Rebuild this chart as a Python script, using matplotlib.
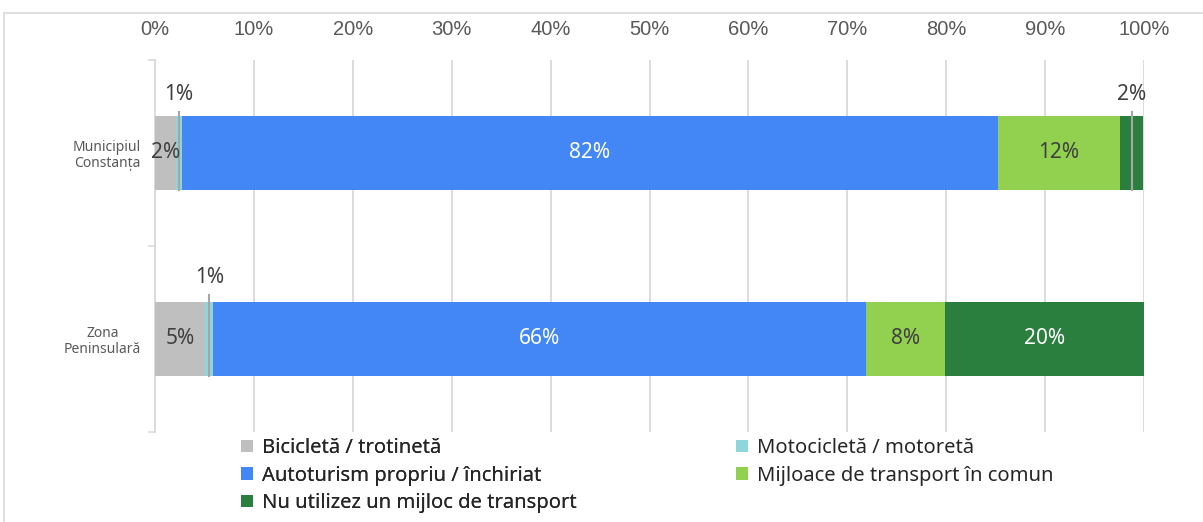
import matplotlib
matplotlib.use("Agg")
import matplotlib.pyplot as plt
from matplotlib.patches import Rectangle, Patch
import numpy as np

categories = ["Municipiul\nConstanța", "Zona\nPeninsulară"]
series_names = ["Bicicletă / trotinetă", "Motocicletă / motoretă", "Autoturism propriu / închiriat",
                "Mijloace de transport în comun", "Nu utilizez un mijloc de transport"]
bicicleta = [2.1, 5.1]
motocicleta = [0.6, 0.8]
autoturism = [82.5, 66.0]
mijloace = [12.4, 8.0]
nu_utilizez = [2.3, 20.1]
labels = [["2%", "5%"], ["1%", "1%"], ["82%", "66%"], ["12%", "8%"], ["2%", "20%"]]
tick_values = [0, 10, 20, 30, 40, 50, 60, 70, 80, 90, 100]
tick_labels = [f"{v}%" for v in tick_values]

colors = ["#bfbfbf", "#8fd6dc", "#4287f5", "#92d050", "#2a7f3e"]
label_colors = ["#404040", "#404040", "white", "#404040", "white"]
outside = [[False, False], [True, True], [False, False], [False, False], [True, False]]

fig = plt.figure(figsize=(12.03, 5.22), dpi=100)
ax = fig.add_axes([155/1203, 1-432/522, (1144-155)/1203, (432-60)/522])

data = [bicicleta, motocicleta, autoturism, mijloace, nu_utilizez]
y = np.arange(len(categories))
left = np.zeros(len(categories))
bar_h = 0.4
for i, vals in enumerate(data):
    vals = np.array(vals)
    ax.barh(y, vals, left=left, height=bar_h, color=colors[i], zorder=3, label=series_names[i])
    for j in range(len(categories)):
        cx = left[j] + vals[j] / 2
        if outside[i][j]:
            label_y = y[j] - 0.312 if j == 0 else y[j] - 0.328
            line_top = y[j] - 0.22 if j == 0 else y[j] - 0.237
            ax.plot([cx, cx], [line_top, y[j] + bar_h/2], color="#a6a6a6", lw=1.5, zorder=4)
            ax.text(cx, label_y, labels[i][j], ha="center", va="center", fontsize=15,
                    family="Noto Sans", color="#404040", zorder=5)
        else:
            ax.text(cx, y[j], labels[i][j], ha="center", va="center", fontsize=15,
                    family="Noto Sans", color=label_colors[i], zorder=5)
    left = left + vals

ax.set_xlim(0, 100)
ax.set_ylim(1.5, -0.5)
ax.xaxis.tick_top()
ax.set_xticks(tick_values)
ax.set_xticklabels(tick_labels, family="Liberation Sans", fontsize=14.5, color="#595959")
ax.tick_params(axis="x", length=0, pad=15)
ax.grid(axis="x", color="#d9d9d9", lw=1.3, zorder=0)
ax.set_yticks(y)
ax.set_yticklabels(categories, family="Noto Sans", fontsize=10, color="#595959",
                   multialignment="center", linespacing=1.1)
ax.tick_params(axis="y", length=0, pad=10)
ax.set_yticks([-0.5, 0.5, 1.5], minor=True)
ax.tick_params(axis="y", which="minor", length=5, color="#d9d9d9", width=1.2)
for s in ["top", "right", "bottom"]:
    ax.spines[s].set_visible(False)
ax.spines["left"].set_color("#d9d9d9")
ax.spines["left"].set_linewidth(1.3)

h = [Patch(facecolor=c, edgecolor="none") for c in colors]
leg_kw = dict(loc="upper left", frameon=False, prop={"family": "Noto Sans", "size": 14.5},
              handlelength=0.58, handleheight=0.58, handletextpad=0.45, labelspacing=0.38,
              borderaxespad=0, borderpad=0, labelcolor="#262626")
leg1 = fig.legend([h[0], h[2], h[4]], [series_names[0], series_names[2], series_names[4]],
                  bbox_to_anchor=(241/1203, 1-438/522), **leg_kw)
leg2 = fig.legend([h[1], h[3]], [series_names[1], series_names[3]],
                  bbox_to_anchor=(736/1203, 1-438/522), **leg_kw)
fig.add_artist(leg1)

fig.patches.append(Rectangle((4/1203, -0.01), 1.0, 1-13/522+0.01, transform=fig.transFigure,
                             fill=False, edgecolor="#d9d9d9", lw=1.2))

fig.savefig("out.png", dpi=100)
